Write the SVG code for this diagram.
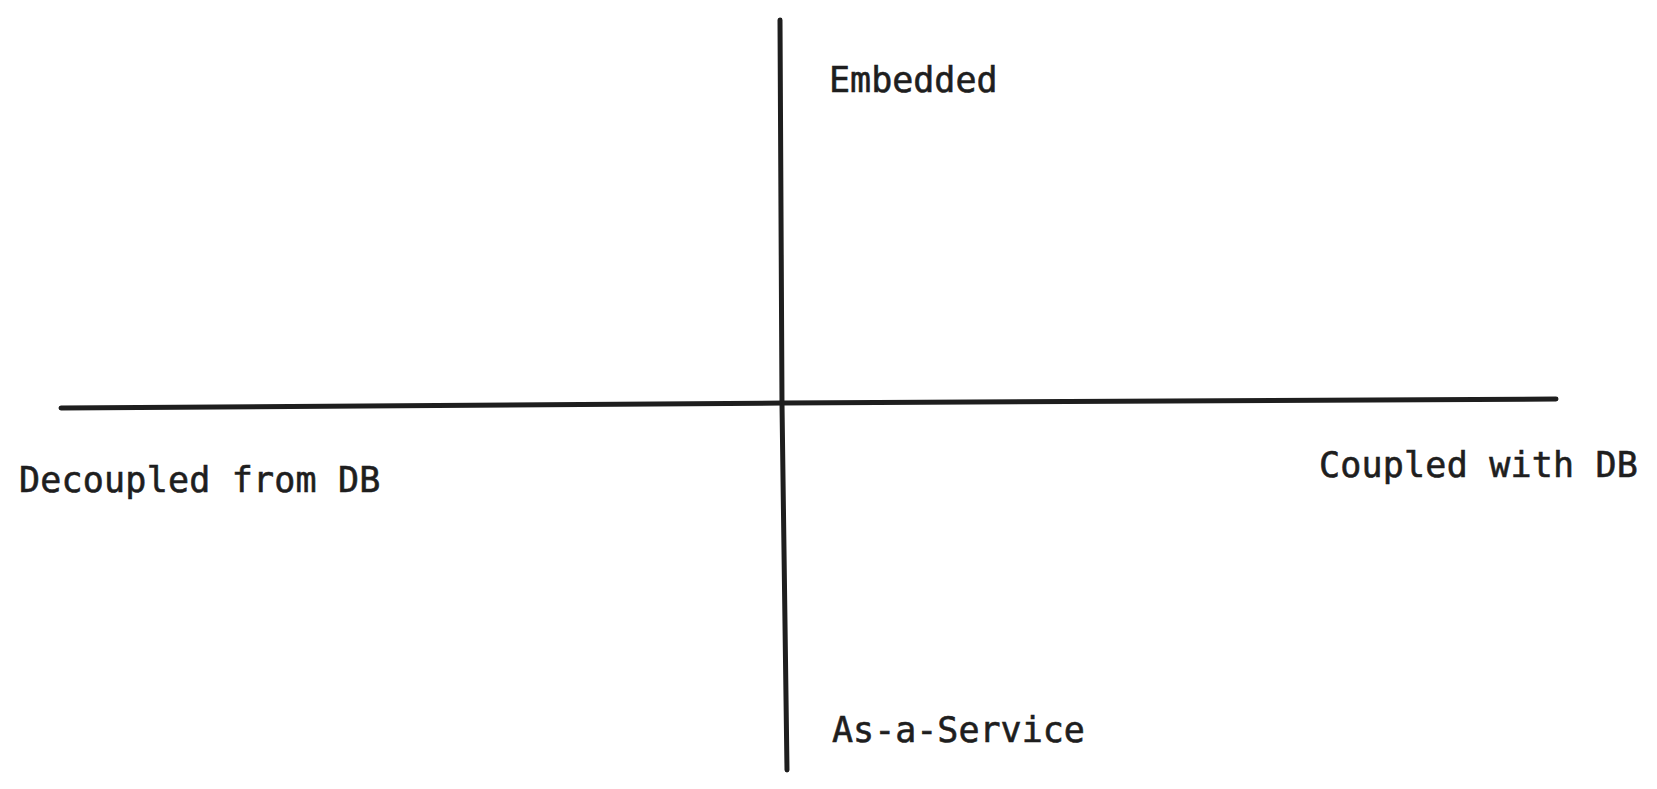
<svg xmlns="http://www.w3.org/2000/svg" width="1657" height="789" viewBox="0 0 1657 789">
<style>
.axis{fill:none;stroke:#1e1e1e;stroke-width:5;stroke-linecap:round;stroke-linejoin:round}
.lbl{font-family:"DejaVu Sans Mono","Liberation Mono",monospace;font-size:35px;fill:#1e1e1e;stroke:#1e1e1e;stroke-width:0.6px}
</style>
<rect width="1657" height="789" fill="#ffffff"/>
<g id="connectors">
<path class="axis" d="M780 20 Q781 200 782 404 Q784 600 787 770"/>
<path class="axis" d="M61 408 Q400 405 783 403 Q1200 400 1556 399"/>
</g>
<g id="embedded"><text class="lbl" x="829" y="92">Embedded</text></g>
<g id="decoupled"><text class="lbl" x="19" y="492" letter-spacing="0.2">Decoupled from DB</text></g>
<g id="coupled"><text class="lbl" x="1319" y="477" letter-spacing="0.2">Coupled with DB</text></g>
<g id="service"><text class="lbl" x="832" y="742">As-a-Service</text></g>
</svg>
